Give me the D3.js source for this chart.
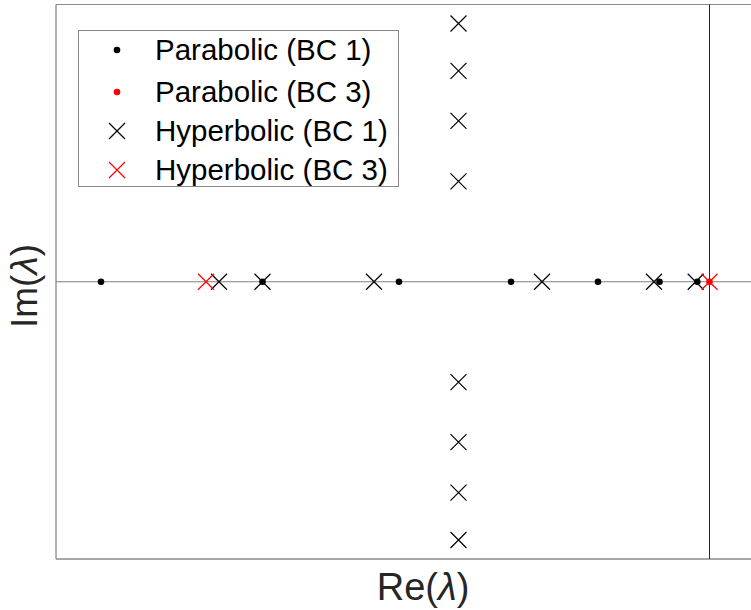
<!DOCTYPE html>
<html>
<head>
<meta charset="utf-8">
<script src="https://cdn.jsdelivr.net/npm/d3@7"></script>
<style>
  html, body { margin: 0; padding: 0; background: #fff; }
  svg { display: block; }
  text { font-family: "Liberation Sans", Arial, sans-serif; }
</style>
</head>
<body>
<svg id="chart" width="751" height="610"></svg>
<script>
// Eigenvalue spectra in the complex plane
const parabolicBC1Re = [-12.17, -8.94, -6.21, -3.97, -2.23, -1.0, -0.244];
const parabolicBC1Im = [0, 0, 0, 0, 0, 0, 0];
const parabolicBC3Re = [0];
const parabolicBC3Im = [0];
const hyperbolicBC1Re = [-9.81, -8.94, -6.71, -3.35, -1.11, -0.276,
                         -5.02, -5.02, -5.02, -5.02, -5.02, -5.02, -5.02, -5.02];
const hyperbolicBC1Im = [0, 0, 0, 0, 0, 0,
                         5.17, 4.22, 3.22, 2.01, -2.01, -3.21, -4.22, -5.17];
const hyperbolicBC3Re = [-10.07, 0];
const hyperbolicBC3Im = [0, 0];

const legendLabels = ["Parabolic (BC 1)", "Parabolic (BC 3)", "Hyperbolic (BC 1)", "Hyperbolic (BC 3)"];
const xLabel = "Re(";
const yLabel = "Im(";
const lambda = "\u03BB";

const svg = d3.select("#chart");

const plot = { left: 56, top: 4.5, right: 756, bottom: 559 };
const x = d3.scaleLinear().domain([-13.07, 0.93]).range([plot.left, plot.right]);
const y = d3.scaleLinear().domain([-5.55, 5.55]).range([plot.bottom, plot.top]);

const zip = (re, im) => re.map((r, i) => ({ re: r, im: im[i] }));

// Axes box
const boxColor = "#8a8a8a";
svg.append("line").attr("x1", plot.left).attr("x2", plot.right)
  .attr("y1", plot.top).attr("y2", plot.top)
  .attr("stroke", boxColor).attr("stroke-width", 1);
svg.append("line").attr("x1", plot.left).attr("x2", plot.right)
  .attr("y1", plot.bottom).attr("y2", plot.bottom)
  .attr("stroke", boxColor).attr("stroke-width", 1.3);
svg.append("line").attr("x1", plot.left).attr("x2", plot.left)
  .attr("y1", plot.top).attr("y2", plot.bottom)
  .attr("stroke", boxColor).attr("stroke-width", 1.3);

// Coordinate axes through the origin
svg.append("line").attr("x1", plot.left).attr("x2", plot.right)
  .attr("y1", y(0)).attr("y2", y(0))
  .attr("stroke", "#808080").attr("stroke-width", 1.2);
svg.append("line").attr("x1", x(0)).attr("x2", x(0))
  .attr("y1", plot.top).attr("y2", plot.bottom)
  .attr("stroke", "#262626").attr("stroke-width", 1);

// Marker helpers
const crossSize = 8;
function drawDots(g, data, color) {
  g.selectAll(null).data(data).enter().append("circle")
    .attr("cx", d => x(d.re)).attr("cy", d => y(d.im))
    .attr("r", 3.3).attr("fill", color);
}
function crossPath(cx, cy, s) {
  return `M${cx - s},${cy - s}L${cx + s},${cy + s}M${cx - s},${cy + s}L${cx + s},${cy - s}`;
}
function drawCrosses(g, data, color) {
  g.selectAll(null).data(data).enter().append("path")
    .attr("d", d => crossPath(x(d.re), y(d.im), crossSize))
    .attr("stroke", color).attr("stroke-width", 1.2).attr("fill", "none");
}

const marks = svg.append("g");
drawDots(marks.append("g"), zip(parabolicBC1Re, parabolicBC1Im), "#000");
drawDots(marks.append("g"), zip(parabolicBC3Re, parabolicBC3Im), "#ff0000");
drawCrosses(marks.append("g"), zip(hyperbolicBC1Re, hyperbolicBC1Im), "#000");
drawCrosses(marks.append("g"), zip(hyperbolicBC3Re, hyperbolicBC3Im), "#ff0000");

// Legend
const legend = svg.append("g");
legend.append("rect").attr("x", 78.5).attr("y", 30.5).attr("width", 320).attr("height", 156)
  .attr("fill", "#fff").attr("stroke", boxColor).attr("stroke-width", 1);
const legendY = [50, 92, 131, 170];
const legendStyle = [
  { type: "dot", color: "#000" }, { type: "dot", color: "#ff0000" },
  { type: "cross", color: "#000" }, { type: "cross", color: "#ff0000" }
];
legendLabels.forEach((label, i) => {
  const cy = legendY[i];
  const st = legendStyle[i];
  if (st.type === "dot") {
    legend.append("circle").attr("cx", 117).attr("cy", cy).attr("r", 3.3).attr("fill", st.color);
  } else {
    legend.append("path").attr("d", crossPath(117, cy, 8))
      .attr("stroke", st.color).attr("stroke-width", 1.2).attr("fill", "none");
  }
  legend.append("text").attr("x", 155).attr("y", cy).attr("dy", "0.35em")
    .attr("font-size", 29.5).attr("fill", "#000").text(label);
});

// Axis labels
const xl = svg.append("text").attr("x", 423).attr("y", 600)
  .attr("text-anchor", "middle").attr("font-size", 38).attr("fill", "#262626");
xl.append("tspan").text(xLabel);
xl.append("tspan").attr("font-style", "italic").text(lambda);
xl.append("tspan").text(")");

const yl = svg.append("text")
  .attr("transform", `translate(37,286) rotate(-90)`)
  .attr("text-anchor", "middle").attr("font-size", 37).attr("fill", "#262626");
yl.append("tspan").text(yLabel);
yl.append("tspan").attr("font-style", "italic").text(lambda);
yl.append("tspan").text(")");
</script>
</body>
</html>
